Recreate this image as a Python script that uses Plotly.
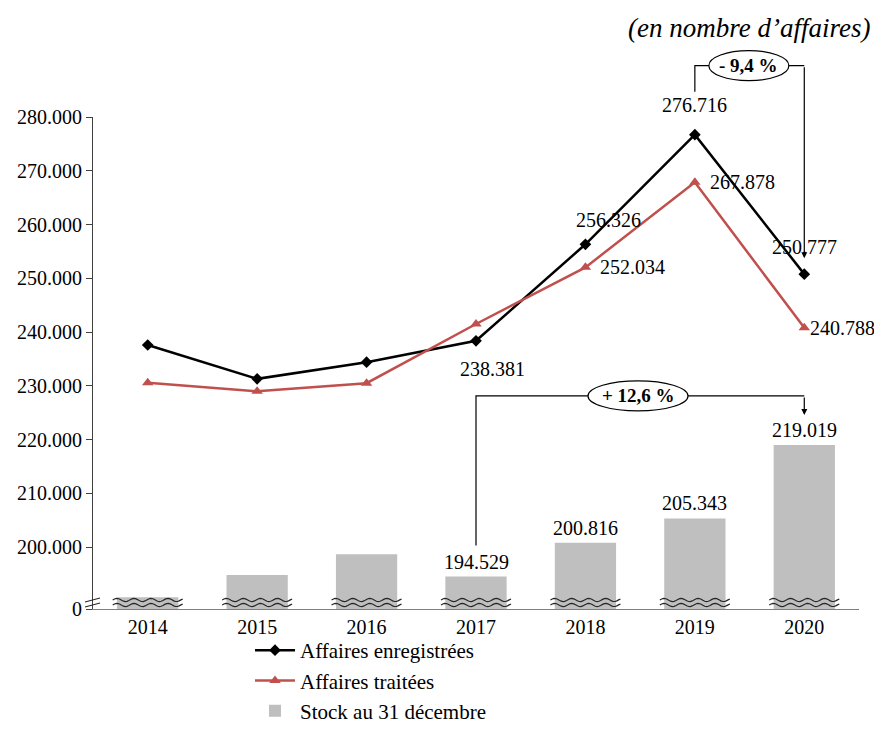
import numpy as np
import plotly.graph_objects as go

years = ["2014", "2015", "2016", "2017", "2018", "2019", "2020"]
enregistrees = [237600, 231300, 234400, 238381, 256326, 276716, 250777]
traitees = [230600, 229000, 230500, 241500, 252034, 267878, 240788]
stock = [190700, 194800, 198700, 194529, 200816, 205343, 219019]

ytick_vals = [200000, 210000, 220000, 230000, 240000, 250000, 260000, 270000, 280000]
ymin, ymax = 188500, 280000

W, H = 882, 736
# the page body adds an 8px offset, so margins are 8px smaller on the left/top
mL, mT = 85, 109
pw, ph = 766, 492
mR, mB = W - mL - pw, H - mT - ph

FONT = "Liberation Serif"
BLACK = "#000000"
RED = "#C0504D"
GREY = "#BFBFBF"


def fmt(v):
    return f"{v:,}".replace(",", ".")


def xp(i):
    # category index -> paper x
    return (i + 0.5) / len(years)


def yp(v):
    return (v - ymin) / (ymax - ymin)


def dx(p):
    return p / pw


def dy(p):
    return p / ph


fig = go.Figure()

fig.add_trace(go.Scatter(
    x=years, y=enregistrees, mode="lines+markers", name="Affaires enregistrées",
    line=dict(color=BLACK, width=2.5),
    marker=dict(symbol="diamond", size=9, color=BLACK),
))
fig.add_trace(go.Scatter(
    x=years, y=traitees, mode="lines+markers", name="Affaires traitées",
    line=dict(color=RED, width=2.5),
    marker=dict(symbol="triangle-up", size=10, color=RED),
))
fig.add_trace(go.Bar(
    x=years, y=stock, name="Stock au 31 décembre",
    marker=dict(color=GREY, line=dict(width=0)),
))

annots = []
shapes = []

# data labels (category axis -> numeric index for annotations)
lab = dict(showarrow=False, xanchor="center", font=dict(family=FONT, size=20, color=BLACK))
for i in range(3, 7):
    annots.append(dict(x=i, y=stock[i], text=fmt(stock[i]), yanchor="bottom", yshift=2, **lab))

enr_off = {3: (16, -28), 4: (23, 24), 5: (0, 30), 6: (0, 27)}
for i, (sx, sy) in enr_off.items():
    annots.append(dict(x=i, y=enregistrees[i], text=fmt(enregistrees[i]),
                       xshift=sx, yshift=sy, **lab))
for i, sx in zip(range(4, 7), (13, 13, 4)):
    d = dict(lab)
    d["xanchor"] = "left"
    annots.append(dict(x=i, y=traitees[i], text=fmt(traitees[i]), xshift=sx, **d))


# wavy break marks across the bars
def wave(x0, x1, y):
    xs = np.linspace(x0, x1, 40)
    ys = y + dy(1.6) * np.sin((xs - x0) / dx(17) * 2 * np.pi)
    return "M " + " L ".join(f"{a:.5f},{b:.5f}" for a, b in zip(xs, ys))


for i in range(len(years)):
    for off in (4, 9):
        shapes.append(dict(type="path", xref="paper", yref="paper",
                           path=wave(xp(i) - dx(35), xp(i) + dx(35), dy(off)),
                           line=dict(color="#262626", width=1.2)))

# break marks on the y axis
for off in (4, 9):
    shapes.append(dict(type="line", xref="paper", yref="paper",
                       x0=dx(-8), y0=dy(off - 2), x1=dx(7), y1=dy(off + 2),
                       line=dict(color="#262626", width=1.2)))


def bracket(i0, v0, i1, v1, ylev, text, xc, rx):
    # line from above point i0 up to ylev, across to i1, arrow down to v1
    xa, xb = xp(i0), xp(i1)
    shapes.append(dict(type="path", xref="paper", yref="paper",
                       path=f"M {xa},{v0} L {xa},{ylev} L {xb},{ylev}",
                       line=dict(color=BLACK, width=1.2)))
    annots.append(dict(xref="paper", yref="paper", x=xb, y=v1, ax=0, ay=-(ylev - v1) * ph,
                       axref="pixel", ayref="pixel", text="", showarrow=True,
                       arrowhead=2, arrowsize=1, arrowwidth=1.2, arrowcolor=BLACK))
    shapes.append(dict(type="circle", xref="paper", yref="paper",
                       x0=xc - dx(rx), x1=xc + dx(rx), y0=ylev - dy(15), y1=ylev + dy(15),
                       fillcolor="white", line=dict(color=BLACK, width=1.2), layer="above"))
    annots.append(dict(xref="paper", yref="paper", x=xc, y=ylev, text=f"<b>{text}</b>",
                       xanchor="center", yanchor="middle", showarrow=False,
                       font=dict(family=FONT, size=19, color=BLACK)))


bracket(5, yp(enregistrees[5]) + dy(43), 6, yp(enregistrees[6]) + dy(16),
        yp(enregistrees[5]) + dy(69), "- 9,4 %", xp(5) + dx(54), 40)
bracket(3, yp(stock[3]) + dy(31), 6, yp(stock[6]) + dy(30),
        yp(stock[6]) + dy(49), "+ 12,6 %", xp(3) + dx(162), 50)

annots.append(dict(xref="paper", yref="paper", x=dx(864 - mL), y=dy(mT + ph - 20),
                   text="(en nombre d’affaires)", showarrow=False,
                   xanchor="right", yanchor="middle",
                   font=dict(family=FONT, size=27, color=BLACK, style="italic")))

fig.update_layout(
    width=W, height=H,
    margin=dict(l=mL, r=mR, t=mT, b=mB),
    plot_bgcolor="white", paper_bgcolor="white",
    font=dict(family=FONT, size=20, color=BLACK),
    bargap=0.44,
    showlegend=True,
    # legend bottom kept 13px above the figure edge so it does not push the margins
    legend=dict(x=dx(242 - mL), y=-dy(H - 13 - (mT + ph)), xanchor="left", yanchor="bottom",
                traceorder="normal", font=dict(size=21), itemwidth=40,
                tracegroupgap=0, bgcolor="rgba(0,0,0,0)"),
    xaxis=dict(type="category", range=[-0.5, len(years) - 0.5],
               showline=True, linecolor="#7F7F7F", linewidth=1,
               ticks="", showgrid=False, tickfont=dict(size=20), automargin=False),
    yaxis=dict(range=[ymin, ymax], showline=True, linecolor="#404040", linewidth=1,
               ticks="outside", ticklen=6, tickcolor="#404040", showgrid=False,
               zeroline=False, automargin=False,
               tickvals=[ymin] + ytick_vals,
               ticktext=["0"] + [fmt(v) for v in ytick_vals],
               tickfont=dict(size=20)),
    annotations=annots,
    shapes=shapes,
)

fig.write_html("out.html")
